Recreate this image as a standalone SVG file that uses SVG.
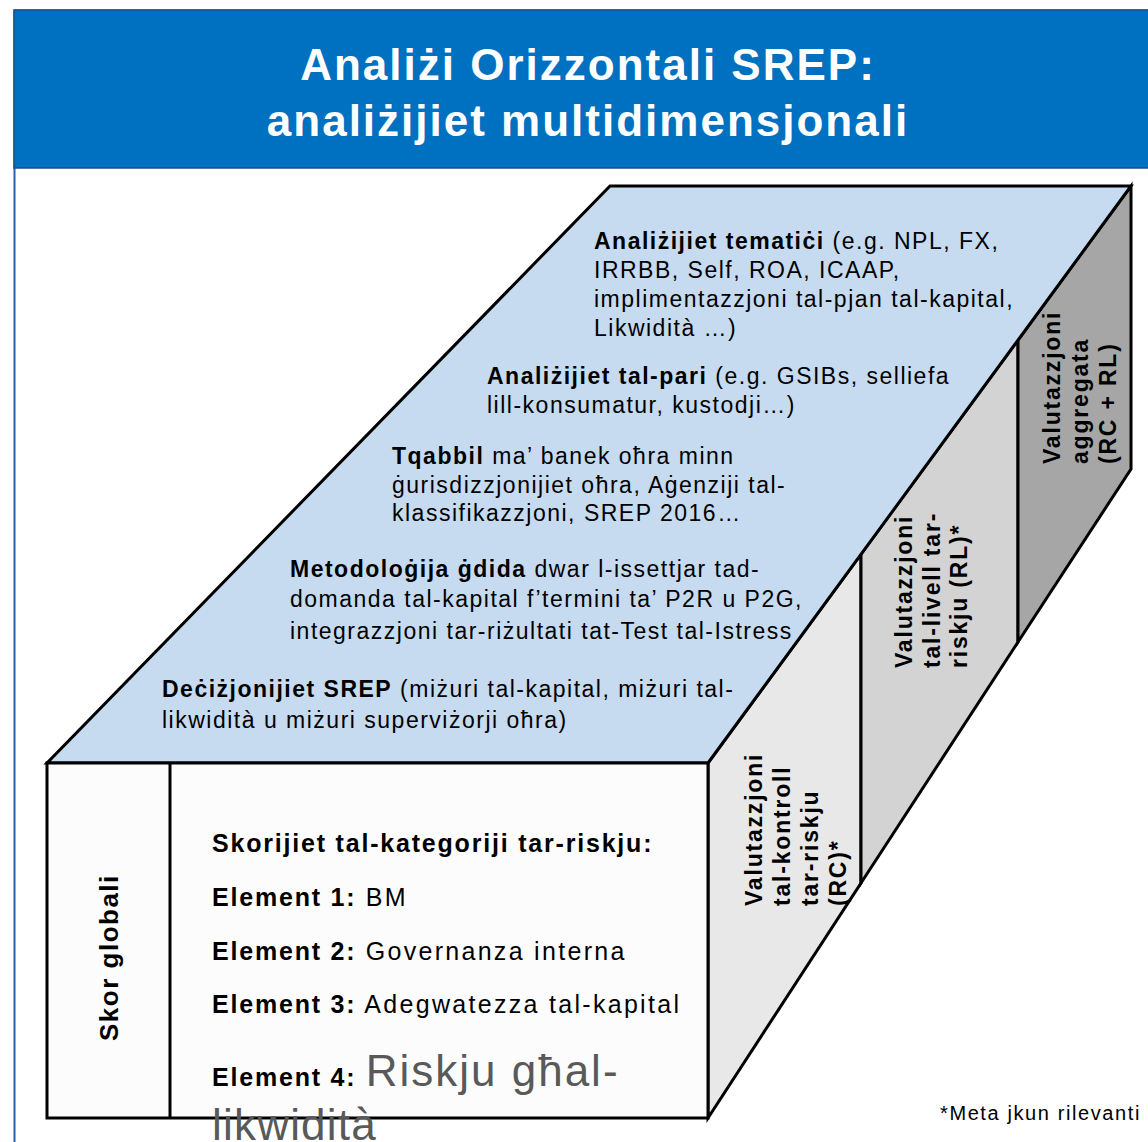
<svg xmlns="http://www.w3.org/2000/svg" width="1148" height="1142" viewBox="0 0 1148 1142">
<style>
text{font-family:"Liberation Sans",Arial,Helvetica,sans-serif;fill:#000}
.title{font-size:44px;font-weight:bold;fill:#fff;letter-spacing:2px}
.top{font-size:23px;letter-spacing:1.5px}
.b{font-weight:bold}
.front{font-size:25px;letter-spacing:2.3px}
.front .b,.front.b{letter-spacing:1.8px}
.side{font-size:23px;font-weight:bold;letter-spacing:1.8px}
.big{font-size:44px;fill:#595959;letter-spacing:2px}
.note{font-size:20px;letter-spacing:1.6px}
.edge{stroke:#000;stroke-width:3;stroke-linejoin:miter}
</style>
<rect x="0" y="0" width="1148" height="1142" fill="#fff"/>
<g id="frame">
<rect x="14.5" y="10.5" width="1145" height="1145" fill="none" stroke="#2F5BB7" stroke-width="2"/>
</g>
<g id="header">
<rect x="14" y="10" width="1140" height="158" fill="#0070C0" stroke="#1F4E8C" stroke-width="1.5"/>
<text class="title" x="588" y="80" text-anchor="middle">Analiżi Orizzontali SREP:</text>
<text class="title" x="588" y="136" text-anchor="middle">analiżijiet multidimensjonali</text>
</g>
<g id="connectors"></g>
<g id="side-rc">
<polygon class="edge" points="708,763 861,554 861,883 708,1118" fill="#E8E8E8"/>
<text class="side" transform="translate(762,906) rotate(-90)">Valutazzjoni</text>
<text class="side" transform="translate(790,906) rotate(-90)">tal-kontroll</text>
<text class="side" transform="translate(818,906) rotate(-90)">tar-riskju</text>
<text class="side" transform="translate(846,906) rotate(-90)">(RC)*</text>
</g>
<g id="side-rl">
<polygon class="edge" points="861,554 1018,340 1018,642 861,883" fill="#D3D3D3"/>
<text class="side" transform="translate(912,668) rotate(-90)">Valutazzjoni</text>
<text class="side" transform="translate(940,668) rotate(-90)">tal-livell tar-</text>
<text class="side" transform="translate(967,668) rotate(-90)">riskju (RL)*</text>
</g>
<g id="side-agg">
<polygon class="edge" points="1018,340 1131,186 1131,469 1018,642" fill="#A6A6A6"/>
<text class="side" transform="translate(1060,464) rotate(-90)">Valutazzjoni</text>
<text class="side" transform="translate(1088,464) rotate(-90)">aggregata</text>
<text class="side" transform="translate(1116,464) rotate(-90)">(RC + RL)</text>
</g>
<g id="top-face">
<polygon class="edge" points="610,186 1131,186 708,763 47,763" fill="#C6DBF0"/>
<text class="top" x="594" y="249"><tspan class="b">Analiżijiet tematiċi</tspan> (e.g. NPL, FX,</text>
<text class="top" x="594" y="278">IRRBB, Self, ROA, ICAAP,</text>
<text class="top" x="594" y="307">implimentazzjoni tal-pjan tal-kapital,</text>
<text class="top" x="594" y="336">Likwidità …)</text>
<text class="top" x="487" y="384"><tspan class="b">Analiżijiet tal-pari</tspan>  (e.g. GSIBs, selliefa</text>
<text class="top" x="487" y="413">lill-konsumatur, kustodji…)</text>
<text class="top" x="392" y="464"><tspan class="b">Tqabbil</tspan> ma’ banek oħra minn</text>
<text class="top" x="392" y="493">ġurisdizzjonijiet oħra, Aġenziji tal-</text>
<text class="top" x="392" y="521">klassifikazzjoni, SREP 2016…</text>
<text class="top" x="290" y="577"><tspan class="b">Metodoloġija ġdida</tspan> dwar l-issettjar tad-</text>
<text class="top" x="290" y="607">domanda tal-kapital f’termini ta’ P2R u P2G,</text>
<text class="top" x="290" y="639">integrazzjoni tar-riżultati tat-Test tal-Istress</text>
<text class="top" x="162" y="697"><tspan class="b">Deċiżjonijiet SREP</tspan> (miżuri tal-kapital, miżuri tal-</text>
<text class="top" x="162" y="728">likwidità u miżuri superviżorji oħra)</text>
</g>
<g id="front-face">
<rect class="edge" x="47" y="763" width="661" height="355" fill="#FCFCFC"/>
<line class="edge" x1="170" y1="763" x2="170" y2="1118"/>
<text class="front b" transform="translate(118,1041) rotate(-90)" style="font-size:26px;letter-spacing:1.5px">Skor globali</text>
<text class="front b" x="212" y="852">Skorijiet tal-kategoriji tar-riskju:</text>
<text class="front" x="212" y="906"><tspan class="b">Element 1:</tspan> BM</text>
<text class="front" x="212" y="960"><tspan class="b">Element 2:</tspan> Governanza interna</text>
<text class="front" x="212" y="1013"><tspan class="b">Element 3:</tspan> Adegwatezza tal-kapital</text>
<text class="front" x="212" y="1086"><tspan class="b">Element 4:</tspan> <tspan class="big">Riskju għal-</tspan></text>
<text class="big" x="212" y="1140" style="letter-spacing:1.2px">likwidità</text>
</g>
<g id="footnote">
<text class="note" x="940" y="1120">*Meta jkun rilevanti</text>
</g>
</svg>
